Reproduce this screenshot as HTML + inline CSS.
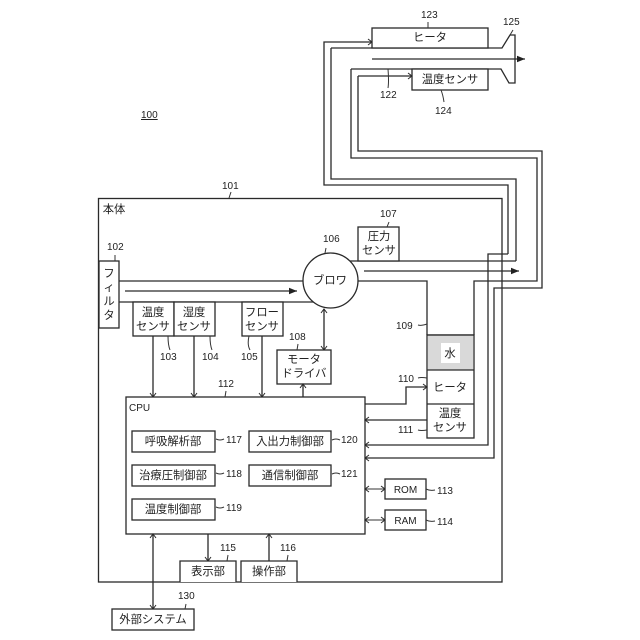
<!DOCTYPE html>
<html lang="ja"><head><meta charset="utf-8"><style>
html,body{margin:0;padding:0;background:#fff}
svg{display:block}
text{font-family:"Liberation Sans","Noto Sans CJK JP",sans-serif;font-size:10px;fill:#222}
.j{font-size:11.300px;text-anchor:middle}
.n{font-size:10px}
.l{fill:none;stroke:#2a2a2a;stroke-width:1.300}
.t{fill:none;stroke:#333;stroke-width:1}
.b{fill:#fff;stroke:#2a2a2a;stroke-width:1.300}
.h{fill:none;stroke:#2a2a2a;stroke-width:1}
</style></head><body>
<svg width="640" height="640" viewBox="0 0 640 640" xmlns="http://www.w3.org/2000/svg">
<defs>
<marker id="o" markerWidth="8" markerHeight="8" refX="6" refY="4" orient="auto-start-reverse" markerUnits="userSpaceOnUse"><path d="M2 1L6 4L2 7" class="h"/></marker>
<marker id="f" markerWidth="10" markerHeight="8" refX="8" refY="4" orient="auto" markerUnits="userSpaceOnUse"><path d="M0 .8L8 4L0 7.200Z" fill="#222"/></marker>
</defs>

<!-- body -->
<rect x="98.500" y="198.500" width="403.500" height="383.500" class="l"/>

<!-- hose wires -->
<path d="M331 48V179H516V261" class="l"/>
<path d="M351 69V158H537V281H474V335" class="l"/>
<path d="M508 254V185H324V42H372" class="l" marker-end="url(#o)"/>
<path d="M358 76V151H542V288H494V458H365" class="l" marker-end="url(#o)"/>
<path d="M508 254H488V445H365" class="l" marker-end="url(#o)"/>

<!-- nozzle -->
<path d="M331 48H502L510 35H515V83H509L501 69H351" class="l"/>
<rect x="372" y="28" width="116" height="20" class="b"/>
<rect x="412" y="69" width="76" height="21" class="b"/>
<path d="M372 59H525" class="l" marker-end="url(#f)"/>
<path d="M358 76H412" class="l" marker-end="url(#o)"/>

<!-- main duct -->
<path d="M119 281H303M119 302H322" class="l"/>
<path d="M125 291H297" class="l" marker-end="url(#f)"/>
<path d="M350 261H516M358 281H427V335" class="l"/>
<path d="M364 271H519" class="l" marker-end="url(#f)"/>
<rect x="99" y="261" width="20" height="67" class="b"/>
<circle cx="330.500" cy="280.500" r="27.500" class="b"/>
<rect x="358" y="227" width="41" height="34" class="b"/>

<!-- sensors -->
<rect x="133" y="302" width="41" height="34" class="b"/>
<rect x="174" y="302" width="41" height="34" class="b"/>
<rect x="242" y="302" width="41" height="34" class="b"/>
<path d="M153 336V397" class="l" marker-end="url(#o)"/>
<path d="M194 336V397" class="l" marker-end="url(#o)"/>
<path d="M262 336V397" class="l" marker-end="url(#o)"/>
<path d="M324 309V350" class="l" marker-start="url(#o)" marker-end="url(#o)"/>
<rect x="277" y="350" width="54" height="34" class="b"/>
<path d="M303 397V384" class="l" marker-end="url(#o)"/>

<!-- chamber -->
<rect x="427" y="335" width="47" height="103" class="b"/>
<rect x="428" y="336" width="45" height="34" fill="#d9d9d9"/>
<rect x="441" y="343" width="19" height="20" fill="#fff"/>
<path d="M427 335H474M427 370H474M427 404H474" class="l"/>

<!-- CPU -->
<rect x="126" y="397" width="239" height="137" class="b"/>
<path d="M365 404H406V387H427" class="l" marker-end="url(#o)"/>
<path d="M427 420H365" class="l" marker-end="url(#o)"/>
<path d="M365 489H385" class="t" marker-start="url(#o)" marker-end="url(#o)"/>
<path d="M365 520H385" class="t" marker-start="url(#o)" marker-end="url(#o)"/>
<rect x="385" y="479" width="41" height="20" class="b"/>
<rect x="385" y="510" width="41" height="20" class="b"/>

<rect x="132" y="431" width="83" height="21" class="b"/>
<rect x="132" y="465" width="83" height="21" class="b"/>
<rect x="132" y="499" width="83" height="21" class="b"/>
<rect x="249" y="431" width="82" height="21" class="b"/>
<rect x="249" y="465" width="82" height="21" class="b"/>

<!-- bottom -->
<path d="M208 534V561" class="l" marker-end="url(#o)"/>
<path d="M269 561V534" class="l" marker-end="url(#o)"/>
<path d="M153 534V609" class="l" marker-start="url(#o)" marker-end="url(#o)"/>
<path d="M180 582V561H236V582M241 582V561H297V582" class="b"/>
<rect x="112" y="609" width="82" height="21" class="b"/>

<!-- leaders -->
<path d="M428 28V22M441 90Q443 95 444 102M388 69Q389 82 388 88M510 35L513 30M229 198L231 192M115 261L115 255M168 336Q168 345 170 350M210 336Q210 345 212 350M249 336Q247 345 250 350M297 350L298 344M325 253L326 248M387 227L389 222M427 324Q421 326 418 325M427 378Q421 377 418 378M427 430Q421 431 418 430M225 397L226 391M216 439Q220 441 224 439M216 473Q220 475 224 473M216 507Q220 509 224 507M332 440Q336 438 340 440M332 474Q336 472 340 474M426 489Q430 491 435 490M426 520Q430 522 435 521M227 561L228 555M287 561L288 555M185 609L186 604" class="t"/>

<!-- labels -->
<text class="n" x="141" y="118" text-decoration="underline">100</text>
<text class="j" x="430" y="41">ヒータ</text>
<text class="j" x="450" y="83">温度センサ</text>
<text class="n" x="421" y="18">123</text>
<text class="n" x="503" y="25">125</text>
<text class="n" x="380" y="98">122</text>
<text class="n" x="435" y="114">124</text>
<text class="n" x="222" y="189">101</text>
<text class="j" x="114" y="213">本体</text>
<text class="n" x="107" y="250">102</text>
<text class="n" x="323" y="242">106</text>
<text class="n" x="380" y="217">107</text>
<text class="n" x="396" y="329">109</text>
<text class="n" x="398" y="382">110</text>
<text class="n" x="398" y="433">111</text>

<text class="j" x="109" y="277">フ</text>
<text class="j" x="109" y="291">ィ</text>
<text class="j" x="109" y="305">ル</text>
<text class="j" x="109" y="319">タ</text>
<text class="j" x="330" y="284">ブロワ</text>
<text class="j" x="379" y="240">圧力</text>
<text class="j" x="379" y="254">センサ</text>
<text class="j" x="153" y="316">温度</text>
<text class="j" x="153" y="330">センサ</text>
<text class="j" x="194" y="316">湿度</text>
<text class="j" x="194" y="330">センサ</text>
<text class="j" x="262" y="316">フロー</text>
<text class="j" x="262" y="330">センサ</text>
<text class="n" x="160" y="360">103</text>
<text class="n" x="202" y="360">104</text>
<text class="n" x="241" y="360">105</text>
<text class="n" x="289" y="340">108</text>
<text class="j" x="304" y="363">モータ</text>
<text class="j" x="304" y="377">ドライバ</text>
<text class="n" x="218" y="387">112</text>

<text class="j" x="450" y="357">水</text>
<text class="j" x="450" y="391">ヒータ</text>
<text class="j" x="450" y="417">温度</text>
<text class="j" x="450" y="431">センサ</text>

<text x="129" y="411">CPU</text>
<text class="j" x="173" y="445">呼吸解析部</text>
<text class="j" x="173" y="479">治療圧制御部</text>
<text class="j" x="173" y="513">温度制御部</text>
<text class="j" x="290" y="445">入出力制御部</text>
<text class="j" x="290" y="479">通信制御部</text>
<text class="n" x="226" y="443">117</text>
<text class="n" x="226" y="477">118</text>
<text class="n" x="226" y="511">119</text>
<text class="n" x="341" y="443">120</text>
<text class="n" x="341" y="477">121</text>
<text x="405.500" y="493" text-anchor="middle">ROM</text>
<text x="405.500" y="524" text-anchor="middle">RAM</text>
<text class="n" x="437" y="494">113</text>
<text class="n" x="437" y="525">114</text>
<text class="n" x="220" y="551">115</text>
<text class="n" x="280" y="551">116</text>
<text class="j" x="208" y="575">表示部</text>
<text class="j" x="269" y="575">操作部</text>
<text class="j" x="153" y="623">外部システム</text>
<text class="n" x="178" y="599">130</text>
</svg>
</body></html>
